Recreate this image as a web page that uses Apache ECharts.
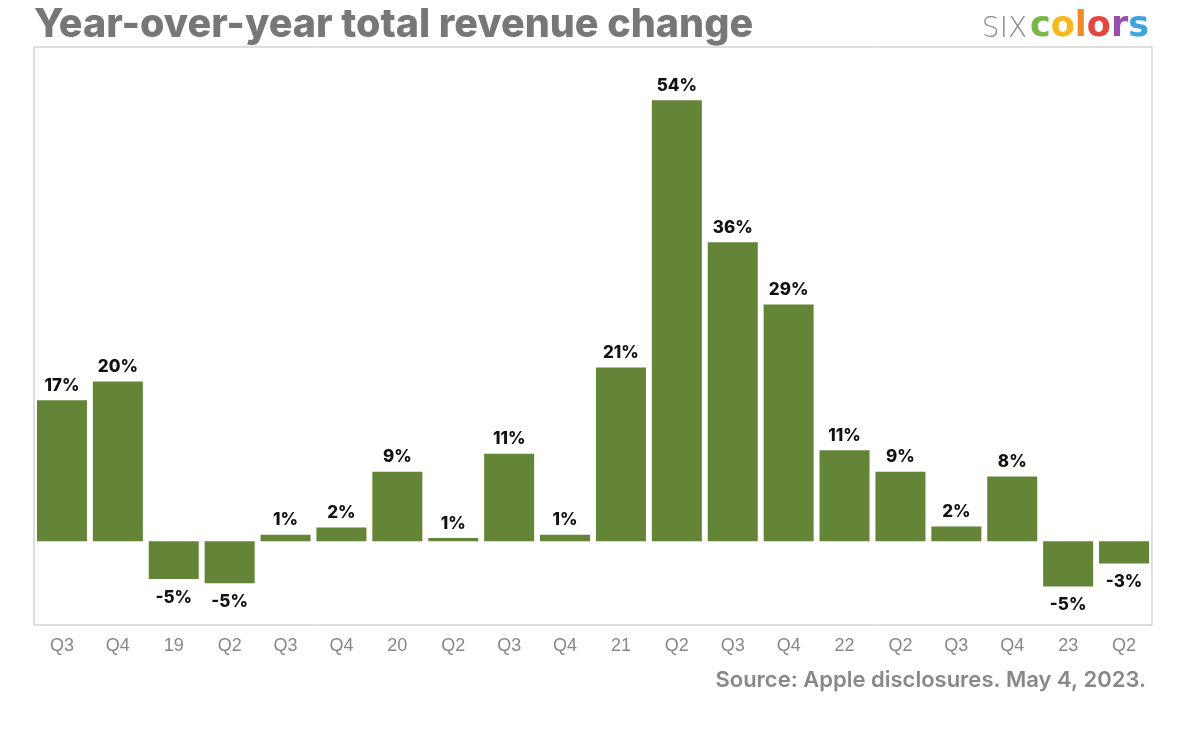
<!DOCTYPE html>
<html>
<head>
<meta charset="utf-8">
<script src="https://cdn.jsdelivr.net/npm/echarts@6/dist/echarts.min.js"></script>
<style>
html,body{margin:0;padding:0;background:#fff;}
#chart{width:1200px;height:736px;}
</style>
</head>
<body>
<div id="chart"></div>
<script>
const categories = ['Q3','Q4','19','Q2','Q3','Q4','20','Q2','Q3','Q4','21','Q2','Q3','Q4','22','Q2','Q3','Q4','23','Q2'];
const values = [17.2, 19.5, -4.6, -5.1, 0.8, 1.7, 8.5, 0.4, 10.7, 0.8, 21.2, 53.8, 36.5, 28.9, 11.1, 8.5, 1.8, 7.9, -5.5, -2.7];
const barLabels = ['17%','20%','-5%','-5%','1%','2%','9%','1%','11%','1%','21%','54%','36%','29%','11%','9%','2%','8%','-5%','-3%'];
const titleText = 'Year-over-year total revenue change';
const sourceText = 'Source: Apple disclosures. May 4, 2023.';

const chart = echarts.init(document.getElementById('chart'), null, {renderer:'canvas'});

const seriesData = values.map((v, i) => ({
  value: v,
  label: {
    position: v >= 0 ? 'top' : 'bottom',
    distance: v >= 0 ? 6 : 10
  }
}));

const logoFont = 'bold 35px "DejaVu Sans", sans-serif';

chart.setOption({
  animation: false,
  backgroundColor: '#ffffff',
  grid: {
    left: 34, right: 48, top: 47, bottom: 111,
    show: true, borderColor: '#bdbdbd', borderWidth: 1, backgroundColor: 'transparent'
  },
  xAxis: {
    type: 'category',
    data: categories,
    axisLine: {show: false},
    axisTick: {show: false},
    axisLabel: {
      color: '#888888',
      fontFamily: 'Liberation Sans, Arial, sans-serif',
      fontSize: 18,
      margin: 12
    }
  },
  yAxis: {
    type: 'value',
    min: -10.2,
    max: 60.3,
    show: false,
    splitLine: {show: false}
  },
  series: [{
    type: 'bar',
    data: seriesData,
    barCategoryGap: '10.5%',
    itemStyle: {color: '#648538'},
    label: {
      show: true,
      color: '#111',
      fontFamily: 'Inter, sans-serif',
      fontWeight: 800,
      fontSize: 17,
      formatter: (p) => barLabels[p.dataIndex]
    }
  }],
  graphic: [
    {
      type: 'text',
      left: 34, top: 5,
      style: {
        text: titleText,
        fill: '#777777',
        font: '800 39.5px Inter, sans-serif'
      }
    },
    {
      type: 'text',
      right: 1200 - 1149, top: 9,
      style: {
        text: '{six|SIX}{g|c}{y|o}{or|l}{r|o}{p|r}{b|s}',
        rich: {
          six: {fill: '#8a8a8a', font: '200 28px "DejaVu Sans", sans-serif', padding: [0, 3, 0, 0], verticalAlign: 'bottom'},
          g: {fill: '#7ab648', font: logoFont, verticalAlign: 'bottom'},
          y: {fill: '#f6b81e', font: logoFont, verticalAlign: 'bottom'},
          or: {fill: '#f08b2c', font: logoFont, verticalAlign: 'bottom'},
          r: {fill: '#e4473f', font: logoFont, verticalAlign: 'bottom'},
          p: {fill: '#9a4fb0', font: logoFont, verticalAlign: 'bottom'},
          b: {fill: '#3fa3dc', font: logoFont, verticalAlign: 'bottom'}
        }
      }
    },
    {
      type: 'text',
      right: 1200 - 1146, top: 669,
      style: {
        text: sourceText,
        fill: '#888888',
        font: '600 22px Inter, sans-serif'
      }
    }
  ]
});
</script>
</body>
</html>
